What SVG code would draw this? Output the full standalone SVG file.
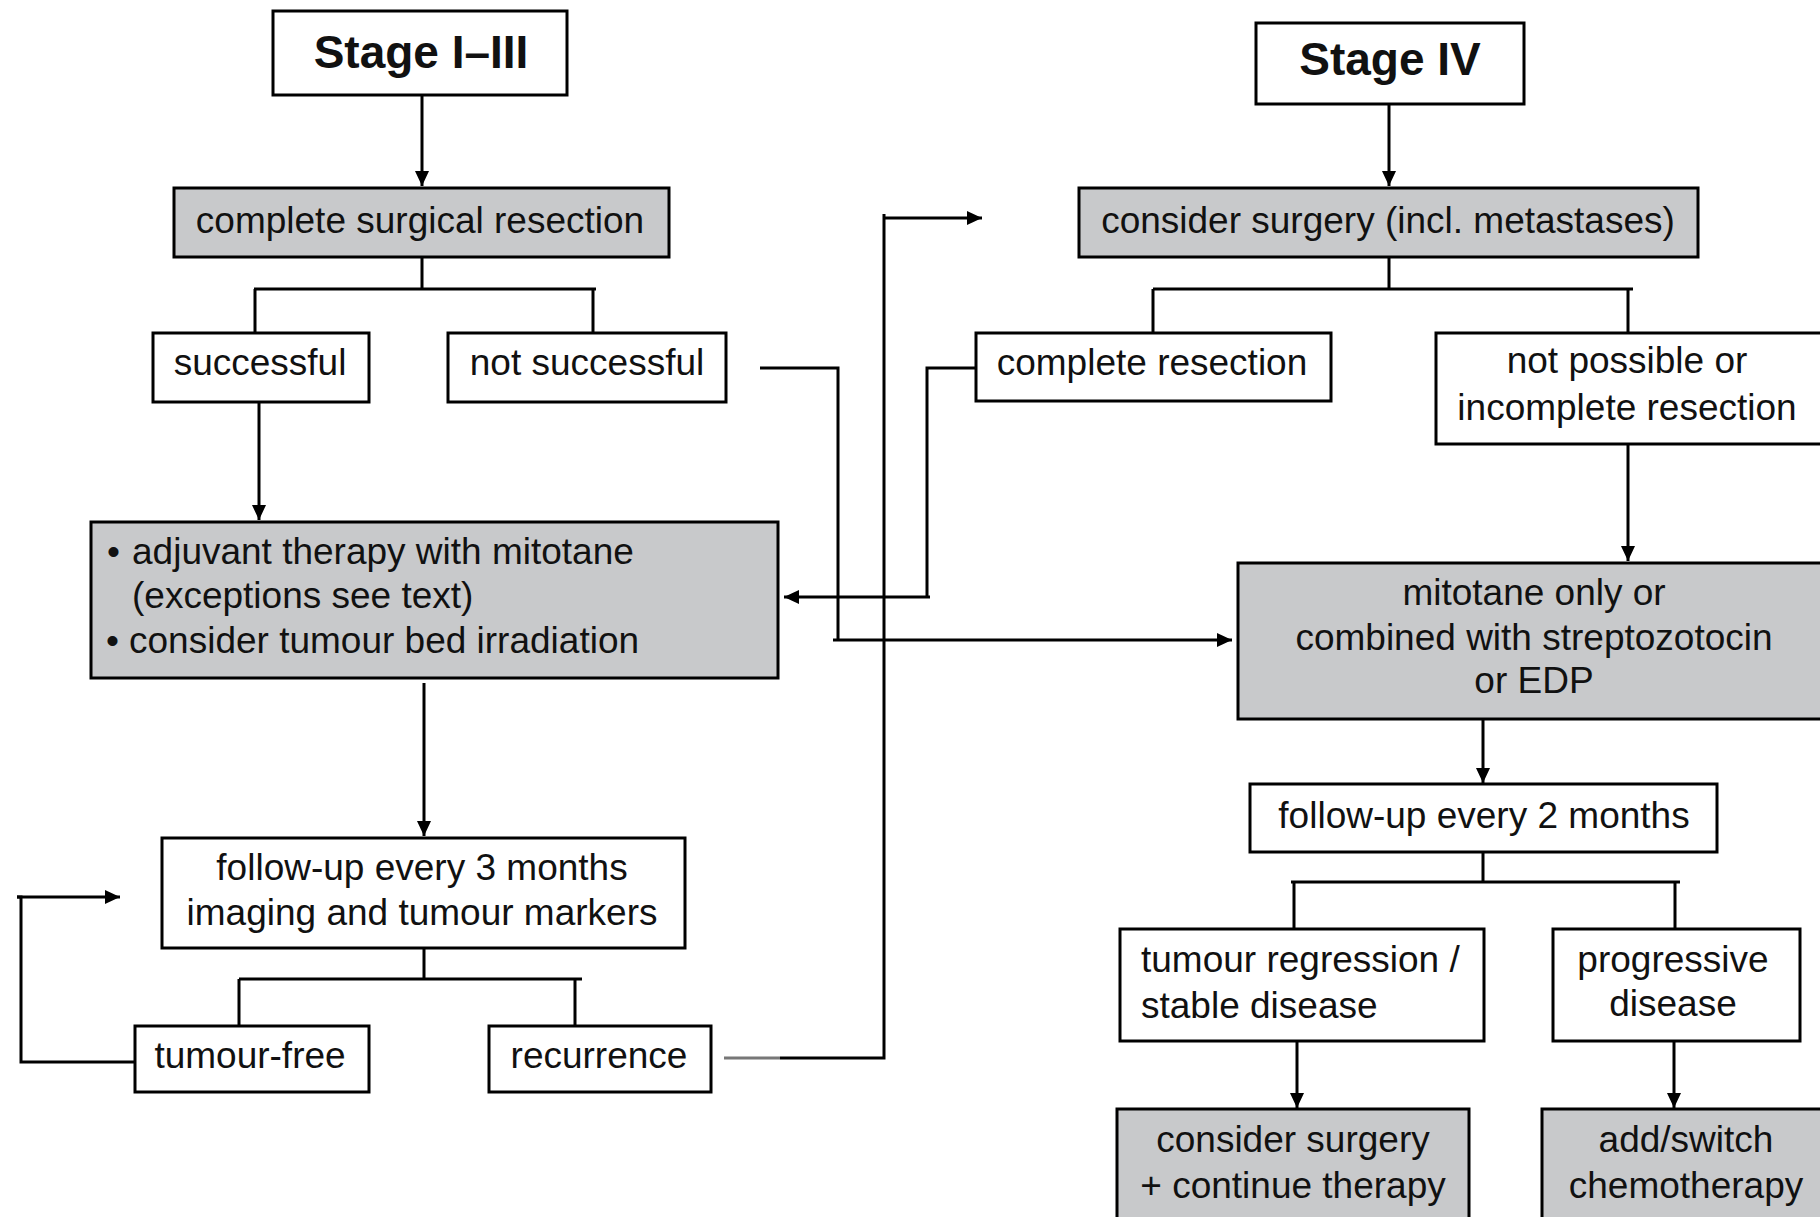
<svg xmlns="http://www.w3.org/2000/svg" width="1820" height="1217" viewBox="0 0 1820 1217">
<style>
.box{fill:#ffffff;stroke:#000;stroke-width:3}
.grey{fill:#c8c9cb;stroke:#000;stroke-width:3}
text{font-family:"Liberation Sans",Arial,sans-serif;font-size:37px;fill:#111}
.c{text-anchor:middle}
.title{font-weight:bold;font-size:46px}
.ln{fill:none;stroke:#000;stroke-width:3}
.ar{fill:none;stroke:#000;stroke-width:3;marker-end:url(#ah)}
</style>
<defs>
<marker id="ah" markerUnits="userSpaceOnUse" markerWidth="16" markerHeight="14" refX="15" refY="7" orient="auto">
<path d="M0,0 L15,7 L0,14 z" fill="#000"/>
</marker>
</defs>
<rect width="1820" height="1217" fill="#fff"/>

<g id="connectors">
<path class="ar" d="M422,95 V186"/>
<path class="ar" d="M1389,104 V186"/>
<path class="ln" d="M422,257 V289 M254,289 H596 M255,289 V337 M593,289 V333"/>
<path class="ln" d="M1389,257 V289 M1153,289 H1633 M1153,289 V333 M1628,289 V333"/>
<path class="ar" d="M259,402 V520"/>
<path class="ln" d="M760,368 H838 V640"/>
<path class="ar" d="M833,640 H1232"/>
<path class="ln" d="M980,368 H927 V597"/>
<path class="ar" d="M930,597 H784"/>
<path class="ar" d="M424,683 V836"/>
<path class="ln" d="M424,948 V979 M239,979 H582 M239,979 V1026 M575,979 V1026"/>
<path class="ln" d="M135,1062 H21 V897 H17"/>
<path class="ar" d="M17,897 H120"/>
<path fill="none" stroke="#777" stroke-width="3" d="M724,1058 H780"/>
<path class="ln" d="M780,1058 H884 V214"/>
<path class="ar" d="M884,218 H982"/>
<path class="ar" d="M1628,444 V561"/>
<path class="ar" d="M1483,719 V783"/>
<path class="ln" d="M1483,852 V882 M1291,882 H1680 M1294,882 V929 M1675,882 V929"/>
<path class="ar" d="M1297,1041 V1108"/>
<path class="ar" d="M1674,1041 V1108"/>
</g>

<g id="stage13">
<rect class="box" x="273" y="11" width="294" height="84"/>
<text class="c title" x="421" y="68">Stage I–III</text>
</g>
<g id="stage4">
<rect class="box" x="1256" y="23" width="268" height="81"/>
<text class="c title" x="1390" y="75">Stage IV</text>
</g>
<g id="complete-surgical-resection">
<rect class="grey" x="174" y="188" width="495" height="69"/>
<text class="c" x="420" y="233">complete surgical resection</text>
</g>
<g id="consider-surgery">
<rect class="grey" x="1079" y="188" width="619" height="69"/>
<text class="c" x="1388" y="233">consider surgery (incl. metastases)</text>
</g>
<g id="successful">
<rect class="box" x="153" y="333" width="216" height="69"/>
<text class="c" x="260" y="375">successful</text>
</g>
<g id="not-successful">
<rect class="box" x="448" y="333" width="278" height="69"/>
<text class="c" x="587" y="375">not successful</text>
</g>
<g id="complete-resection">
<rect class="box" x="976" y="333" width="355" height="68"/>
<text class="c" x="1152" y="375">complete resection</text>
</g>
<g id="not-possible">
<rect class="box" x="1436" y="333" width="400" height="111"/>
<text class="c" x="1627" y="373">not possible or</text>
<text class="c" x="1627" y="420">incomplete resection</text>
</g>
<g id="adjuvant">
<rect class="grey" x="91" y="522" width="687" height="156"/>
<text x="107" y="564">•</text>
<text x="132" y="564">adjuvant therapy with mitotane</text>
<text x="132" y="608">(exceptions see text)</text>
<text x="106" y="653">•</text>
<text x="129" y="653">consider tumour bed irradiation</text>
</g>
<g id="mitotane">
<rect class="grey" x="1238" y="563" width="600" height="156"/>
<text class="c" x="1534" y="605">mitotane only or</text>
<text class="c" x="1534" y="650">combined with streptozotocin</text>
<text class="c" x="1534" y="693">or EDP</text>
</g>
<g id="followup3">
<rect class="box" x="162" y="838" width="523" height="110"/>
<text class="c" x="422" y="880">follow-up every 3 months</text>
<text class="c" x="422" y="925">imaging and tumour markers</text>
</g>
<g id="followup2">
<rect class="box" x="1250" y="784" width="467" height="68"/>
<text class="c" x="1484" y="828">follow-up every 2 months</text>
</g>
<g id="tumour-free">
<rect class="box" x="135" y="1026" width="234" height="66"/>
<text class="c" x="250" y="1068">tumour-free</text>
</g>
<g id="recurrence">
<rect class="box" x="489" y="1026" width="222" height="66"/>
<text class="c" x="599" y="1068">recurrence</text>
</g>
<g id="regression">
<rect class="box" x="1120" y="929" width="364" height="112"/>
<text x="1141" y="972">tumour regression /</text>
<text x="1141" y="1018">stable disease</text>
</g>
<g id="progressive">
<rect class="box" x="1553" y="929" width="247" height="112"/>
<text class="c" x="1673" y="972">progressive</text>
<text class="c" x="1673" y="1016">disease</text>
</g>
<g id="continue-therapy">
<rect class="grey" x="1117" y="1109" width="352" height="130"/>
<text class="c" x="1293" y="1152">consider surgery</text>
<text class="c" x="1293" y="1198">+ continue therapy</text>
</g>
<g id="add-switch">
<rect class="grey" x="1542" y="1109" width="300" height="130"/>
<text class="c" x="1686" y="1152">add/switch</text>
<text class="c" x="1686" y="1198">chemotherapy</text>
</g>
</svg>
